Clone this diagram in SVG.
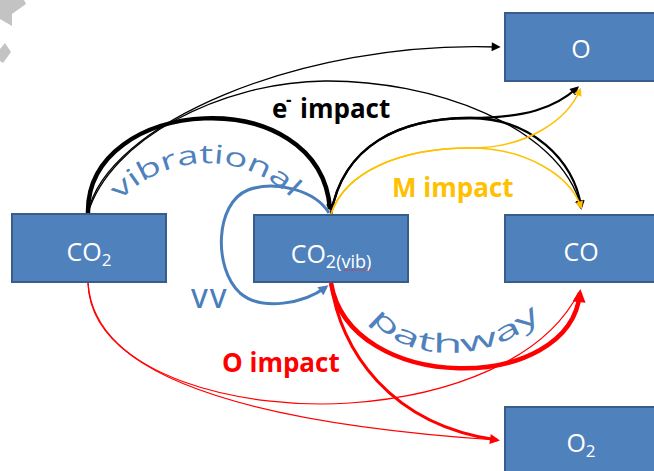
<svg xmlns="http://www.w3.org/2000/svg" width="654" height="471" viewBox="0 0 654 471">
<style>
.box{fill:#4F81BD;stroke:#385D8A;stroke-width:2}
.nt{font-family:"Open Sans","Liberation Sans",sans-serif;fill:#fff;font-size:25px;text-anchor:middle}
.sub{font-size:17px}
.ln{fill:none;stroke-linecap:butt}
.bk{stroke:#000}
.yl{stroke:#FFC000;stroke-width:1.5}
.rd{stroke:#FF0000}
.bl{stroke:#4A7EBB;stroke-width:3}
.lab{font-family:"Open Sans","Liberation Sans",sans-serif;font-weight:bold;font-size:26px}
.arc{font-family:"Open Sans","Liberation Sans",sans-serif;font-size:26px;fill:#4F81BD}
.vv{font-family:"Open Sans","Liberation Sans",sans-serif;font-size:27px;font-weight:600;letter-spacing:2px;fill:#4A7EBB}
.sup{font-size:17px}
</style>
<defs>
<marker id="aBk" viewBox="0 0 10 10" refX="7" refY="5" markerUnits="userSpaceOnUse" markerWidth="11" markerHeight="9" orient="auto"><path d="M0,0L10,5L0,10z" fill="#000"/></marker>
<marker id="aBkS" viewBox="0 0 10 10" refX="7" refY="5" markerUnits="userSpaceOnUse" markerWidth="8" markerHeight="7" orient="auto"><path d="M0,0L10,5L0,10z" fill="#000"/></marker>
<marker id="aYl" viewBox="0 0 10 10" refX="7" refY="5" markerUnits="userSpaceOnUse" markerWidth="10" markerHeight="8" orient="auto"><path d="M0,0L10,5L0,10z" fill="#FFC000"/></marker>
<marker id="aBl" viewBox="0 0 10 10" refX="7" refY="5" markerUnits="userSpaceOnUse" markerWidth="12" markerHeight="10" orient="auto"><path d="M0,0L10,5L0,10z" fill="#4A7EBB"/></marker>
<marker id="aRdL" viewBox="0 0 10 10" refX="7" refY="5" markerUnits="userSpaceOnUse" markerWidth="16" markerHeight="13" orient="auto"><path d="M0,0L10,5L0,10z" fill="#FF0000"/></marker>
<marker id="aRd" viewBox="0 0 10 10" refX="7" refY="5" markerUnits="userSpaceOnUse" markerWidth="13" markerHeight="10" orient="auto"><path d="M0,0L10,5L0,10z" fill="#FF0000"/></marker>
<path id="pVib" d="M116,205 A120,120 0 0 1 298,205"/>
<path id="pPath" d="M370,316 C400,366 500,366 547,310"/>
</defs>
<rect width="654" height="471" fill="#fff"/>
<g id="deco" fill="#C3C3C3">
<polygon points="0,0 24,0 26,4 12,14 12,26 0,19"/>
<polygon points="0,49 5,43 11,52 3,63 0,61"/>
</g>
<g id="connectors">
<path class="ln bk" stroke-width="1.3" d="M88,213 C105,125 300,40 498,47" marker-end="url(#aBk)"/>
<path class="ln bk" stroke-width="1.3" d="M88,213 C110,140 220,82 325,81 C430,80 560,125 581,207" marker-end="url(#aBk)"/>
<path class="ln bk" stroke-width="4.5" d="M88,213 C86,95 320,80 330,209" marker-end="url(#aBkS)"/>
<path class="ln bk" stroke-width="2.3" d="M331,214 C343,145 400,118 470,118 C525,118 555,108 577,88" marker-end="url(#aBk)"/>
<path class="ln bk" stroke-width="2.3" d="M331,214 C343,145 400,118 470,118 C530,118 575,160 581,207" marker-end="url(#aBk)"/>
<path class="ln yl" d="M331,214 C345,172 400,148 470,148 C530,148 568,118 580,90" marker-end="url(#aYl)"/>
<path class="ln yl" d="M331,214 C345,172 400,148 470,148 C525,148 570,175 581,207" marker-end="url(#aYl)"/>
<path class="ln bl" d="M329,213 C315,190 275,180 248,190 C215,203 213,268 240,293 C262,312 305,303 326,287" marker-end="url(#aBl)"/>
<path class="ln rd" stroke-width="1.2" d="M88,283 C90,360 200,420 497,440"/>
<path class="ln rd" stroke-width="1.2" d="M88,283 C95,380 250,410 350,403 C450,396 545,360 579,292"/>
<path class="ln rd" stroke-width="3" d="M331,283 C340,350 390,425 497,440" marker-end="url(#aRd)"/>
<path class="ln rd" stroke-width="4.5" d="M331,283 C350,395 570,395 580,293" marker-end="url(#aRdL)"/>
</g>
<g id="labels">
<text class="lab" x="272" y="118" fill="#000">e</text>
<text class="lab sup" x="286" y="106" fill="#000">-</text>
<text class="lab" x="300" y="118" fill="#000">impact</text>
<text class="lab" x="392" y="197" fill="#FFC000">M impact</text>
<text class="lab" x="222" y="372" fill="#FF0000">O impact</text>
<text class="vv" x="191" y="308">VV</text>
<text class="arc"><textPath href="#pVib" startOffset="6" textLength="191" lengthAdjust="spacingAndGlyphs">vibrational</textPath></text>
<text class="arc"><textPath href="#pPath" startOffset="2" textLength="190" lengthAdjust="spacingAndGlyphs">pathway</textPath></text>
</g>
<g id="node-co2">
<rect class="box" x="12" y="214" width="154" height="68"/>
<text class="nt" x="89" y="261">CO<tspan class="sub" dy="5">2</tspan></text>
</g>
<g id="node-co2vib">
<rect class="box" x="254" y="215" width="154" height="67"/>
<text class="nt" x="331" y="263">CO<tspan class="sub" style="font-size:18px" dy="5">2(vib)</tspan></text>
<path d="M344,270 L371,270" stroke="#E03030" stroke-width="1" stroke-dasharray="1.5,1" fill="none"/>
</g>
<g id="node-co">
<rect class="box" x="505" y="215" width="154" height="67"/>
<text class="nt" x="581" y="261">CO</text>
</g>
<g id="node-o">
<rect class="box" x="505" y="13" width="154" height="68"/>
<text class="nt" x="581" y="58">O</text>
</g>
<g id="node-o2">
<rect class="box" x="505" y="407" width="154" height="70"/>
<text class="nt" x="581" y="452">O<tspan class="sub" dy="5">2</tspan></text>
</g>
</svg>
